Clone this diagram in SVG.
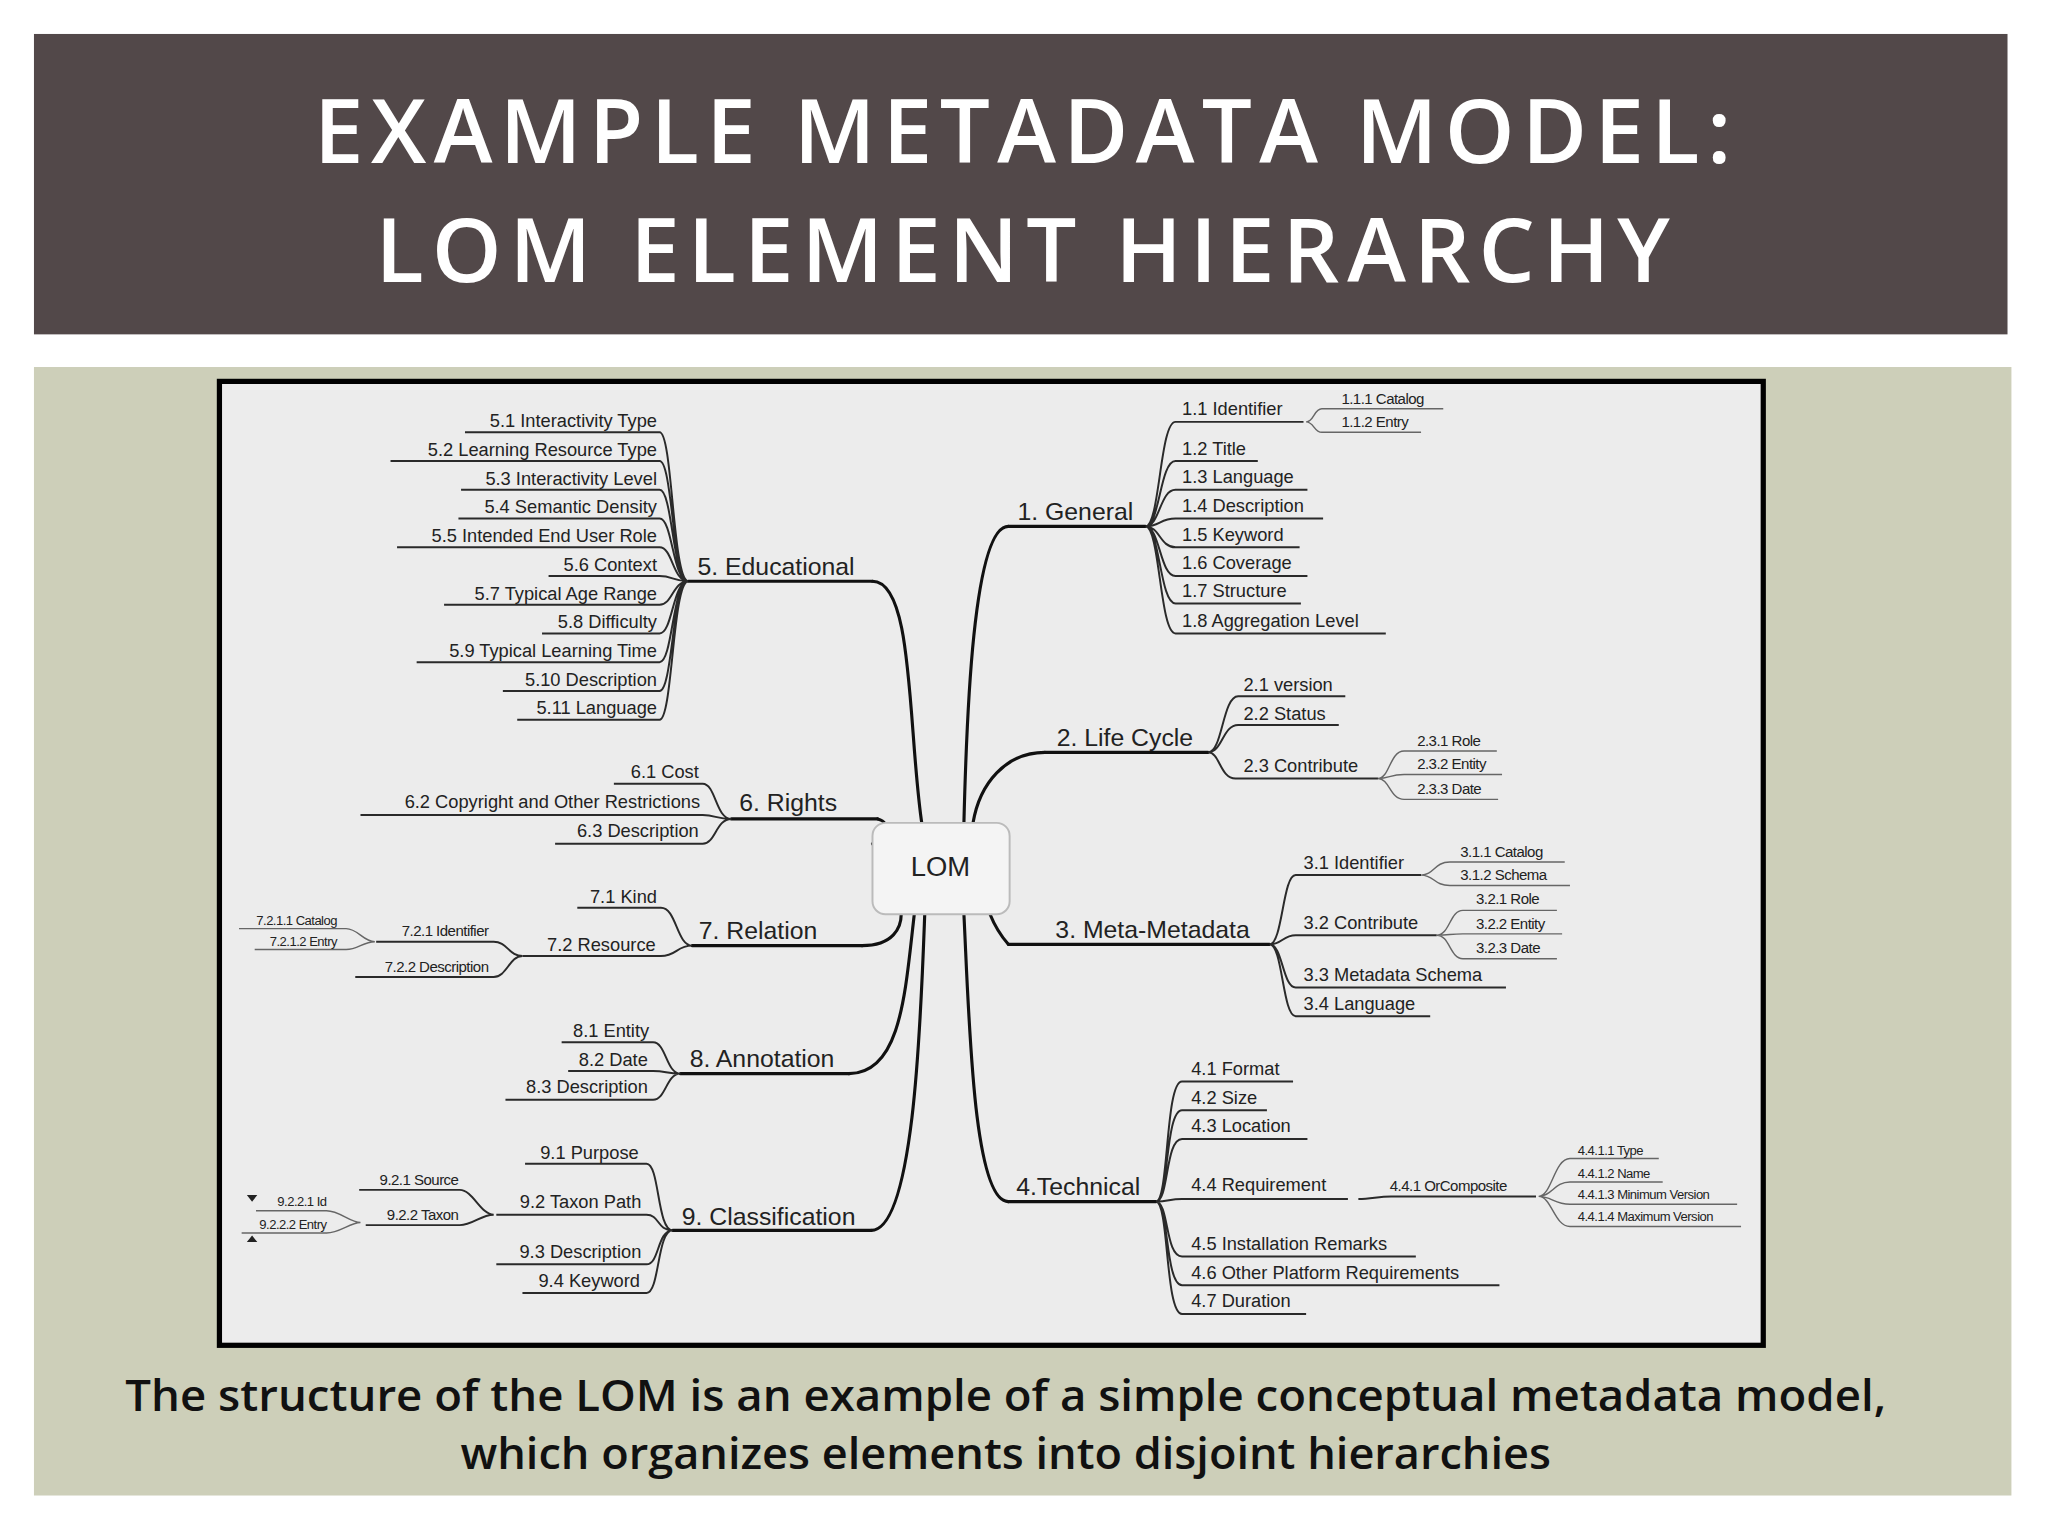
<svg xmlns="http://www.w3.org/2000/svg" width="2048" height="1536" viewBox="0 0 2048 1536">
<style>
.t{font-family:"Liberation Sans",Arial,sans-serif;fill:#222}
.m{font-size:19px}
.l{font-size:14px}
.s{font-size:11.5px;letter-spacing:-0.4px}
.r{text-anchor:end}
.c{fill:none;stroke:#111;stroke-width:2.4;stroke-linecap:round}
.e{fill:none;stroke:#2a2a2a;stroke-width:1.5}
.f{fill:none;stroke:#666;stroke-width:1.1}
</style>
<rect width="2048" height="1536" fill="#fff"/>
<g transform="scale(1.30612)">
<rect x="26" y="26" width="1511" height="230" fill="#524849"/>
<g font-family="'Open Sans','Liberation Sans',sans-serif" font-weight="600" font-size="68" fill="#fff" text-anchor="middle">
<text x="783" y="125" textLength="1085" lengthAdjust="spacing">EXAMPLE METADATA MODEL:</text>
<text x="783" y="216" textLength="991" lengthAdjust="spacing">LOM ELEMENT HIERARCHY</text>
</g>
<rect x="26" y="281" width="1514" height="864" fill="#cdcfb9"/>
<rect x="168" y="292" width="1182" height="738" fill="#ececec" stroke="#000" stroke-width="4"/>
<g font-family="'Open Sans','Liberation Sans',sans-serif" fill="#111" font-weight="600" font-size="33" text-anchor="middle">
<text x="770" y="1080" textLength="1348" lengthAdjust="spacingAndGlyphs">The structure of the LOM is an example of a simple conceptual metadata model,</text>
<text x="770" y="1125" textLength="835" lengthAdjust="spacingAndGlyphs">which organizes elements into disjoint hierarchies</text>
</g>

<g id="connectors">
<path class="c" d="M668 445 C700 445 695 560 706 632"/>
<path class="c" d="M672 627 C684 630 676 642 668 646"/>
<path class="c" d="M660 724 C684 724 690 710 690 700"/>
<path class="c" d="M650 822 C690 822 693 760 700 700"/>
<path class="c" d="M667 942 C700 942 705 780 708 700"/>
<path class="c" d="M772 403 C745 403 740 550 738 630"/>
<path class="c" d="M800 576 C770 576 750 600 745 630"/>
<path class="c" d="M772 723 C765 715 760 705 758 700"/>
<path class="c" d="M772 920 C745 920 742 780 738 700"/>
<path class="c" d="M527 445 H668 M560 627 H672 M530 724 H660 M521 822 H650 M515 942 H667 M772 403 H877 M800 576 H925 M772 723 H972 M772 920 H885"/>
<path class="e" d="M527 445 C515 445 515 331 505 331 H356 M527 445 C515 445 515 353 505 353 H299 M527 445 C515 445 515 375 505 375 H353 M527 445 C515 445 515 397 505 397 H351 M527 445 C515 445 515 419 505 419 H304 M527 445 C515 445 515 441 505 441 H420 M527 445 C515 445 515 463 505 463 H340 M527 445 C515 445 515 485 505 485 H415 M527 445 C515 445 515 507 505 507 H319 M527 445 C515 445 515 529 505 529 H385 M527 445 C515 445 515 551 505 551 H396"/>
<path class="e" d="M560 627 C548 627 548 600 538 600 H470 M560 627 C548 627 548 624 538 624 H276 M560 627 C548 627 548 646 538 646 H425"/>
<path class="e" d="M530 724 C518 724 518 695 506 695 H442 M530 724 C518 724 518 732 506 732 H400"/>
<path class="e" d="M400 732 C390 732 388 721 378 721 H288 M400 732 C390 732 388 748 378 748 H272"/>
<path class="f" d="M287 721 C278 721 274 711 265 711 H183 M287 721 C278 721 274 727 265 727 H195"/>
<path class="e" d="M521 822 C510 822 510 798 500 798 H430 M521 822 C510 822 510 820 500 820 H435 M521 822 C510 822 510 842 500 842 H387"/>
<path class="e" d="M515 942 C503 942 505 891 495 891 H402 M515 942 C503 942 505 930 495 930 H380 M515 942 C503 942 505 968 495 968 H380 M515 942 C503 942 505 990 495 990 H400"/>
<path class="e" d="M378 930 C368 930 362 911 352 911 H275 M378 930 C368 930 362 938 352 938 H280"/>
<path class="f" d="M276 936 C268 936 260 927 250 927 H196 M276 936 C268 936 260 944 250 944 H185"/>
<path d="M189 915 H197 L193 920 Z M189 951 H197 L193 946 Z" fill="#222"/>
<path class="e" d="M877 403 C888 403 888 323 900 323 H998 M877 403 C888 403 888 353 900 353 H963 M877 403 C888 403 888 375 900 375 H1001 M877 403 C888 403 888 397 900 397 H1013 M877 403 C888 403 888 419 900 419 H995 M877 403 C888 403 888 441 900 441 H1001 M877 403 C888 403 888 462 900 462 H996 M877 403 C888 403 888 485 900 485 H1061"/>
<path class="f" d="M1000 323 C1006 323 1006 313 1012 313 H1105 M1000 323 C1006 323 1006 331 1012 331 H1088"/>
<path class="e" d="M925 576 C936 576 936 533 948 533 H1030 M925 576 C936 576 936 555 948 555 H1025 M925 576 C934 576 934 596 946 596 H1055"/>
<path class="f" d="M1055 596 C1064 596 1064 575 1075 575 H1146 M1055 596 C1064 596 1064 593 1075 593 H1150 M1055 596 C1064 596 1064 612 1075 612 H1147"/>
<path class="e" d="M972 723 C982 723 982 670 992 670 H1088 M972 723 C982 723 982 716 992 716 H1100 M972 723 C982 723 982 756 992 756 H1153 M972 723 C982 723 982 778 992 778 H1095"/>
<path class="f" d="M1088 670 C1098 670 1098 660 1110 660 H1198 M1088 670 C1098 670 1098 678 1110 678 H1202"/>
<path class="f" d="M1100 716 C1110 716 1110 697 1120 697 H1192 M1100 716 C1110 716 1110 715 1120 715 H1196 M1100 716 C1110 716 1110 734 1120 734 H1192"/>
<path class="e" d="M885 920 C895 920 892 828 905 828 H990 M885 920 C895 920 892 850 905 850 H970 M885 920 C895 920 892 872 905 872 H1001 M885 920 C895 920 895 918 905 918 H1032 M885 920 C895 920 892 962 905 962 H1084 M885 920 C895 920 892 984 905 984 H1148 M885 920 C895 920 892 1006 905 1006 H1000"/>
<path class="e" d="M1040 918 C1050 918 1055 916 1065 916 H1176"/>
<path class="f" d="M1178 916 C1188 916 1190 887 1202 887 H1270 M1178 916 C1188 916 1190 905 1202 905 H1273 M1178 916 C1188 916 1190 922 1202 922 H1330 M1178 916 C1188 916 1190 939 1202 939 H1333"/>
</g>

<g id="lom"><rect x="668" y="630" width="105" height="70" rx="10" fill="#f4f4f4" stroke="#bbb" stroke-width="1.5"/><text class="t" x="720" y="671" font-size="21" text-anchor="middle">LOM</text></g>

<g id="n5" class="t"><text class="m" x="534" y="440">5. Educational</text>
<g class="l r"><text x="503" y="327">5.1 Interactivity Type</text><text x="503" y="349">5.2 Learning Resource Type</text><text x="503" y="371">5.3 Interactivity Level</text><text x="503" y="393">5.4 Semantic Density</text><text x="503" y="415">5.5 Intended End User Role</text><text x="503" y="437">5.6 Context</text><text x="503" y="459">5.7 Typical Age Range</text><text x="503" y="481">5.8 Difficulty</text><text x="503" y="503">5.9 Typical Learning Time</text><text x="503" y="525">5.10 Description</text><text x="503" y="547">5.11 Language</text></g></g>
<g id="n6" class="t"><text class="m" x="566" y="621">6. Rights</text>
<g class="l r"><text x="535" y="596">6.1 Cost</text><text x="536" y="619">6.2 Copyright and Other Restrictions</text><text x="535" y="641">6.3 Description</text></g></g>
<g id="n7" class="t"><text class="m" x="535" y="719">7. Relation</text>
<g class="l r"><text x="503" y="691">7.1 Kind</text><text x="502" y="728">7.2 Resource</text></g>
<g class="s r"><text x="374" y="717">7.2.1 Identifier</text><text x="374" y="744">7.2.2 Description</text></g>
<g class="r" font-size="10" letter-spacing="-0.4"><text x="258" y="708">7.2.1.1 Catalog</text><text x="258" y="724">7.2.1.2 Entry</text></g></g>
<g id="n8" class="t"><text class="m" x="528" y="817">8. Annotation</text>
<g class="l r"><text x="497" y="794">8.1 Entity</text><text x="496" y="816">8.2 Date</text><text x="496" y="837">8.3 Description</text></g></g>
<g id="n9" class="t"><text class="m" x="522" y="938">9. Classification</text>
<g class="l r"><text x="489" y="887">9.1 Purpose</text><text x="491" y="925">9.2 Taxon Path</text><text x="491" y="963">9.3 Description</text><text x="490" y="985">9.4 Keyword</text></g>
<g class="s r"><text x="351" y="907">9.2.1 Source</text><text x="351" y="934">9.2.2 Taxon</text></g>
<g class="r" font-size="10" letter-spacing="-0.4"><text x="250" y="923">9.2.2.1 Id</text><text x="250" y="941">9.2.2.2 Entry</text></g></g>
<g id="n1" class="t"><text class="m" x="779" y="398">1. General</text>
<g class="l"><text x="905" y="318">1.1 Identifier</text><text x="905" y="348">1.2 Title</text><text x="905" y="370">1.3 Language</text><text x="905" y="392">1.4 Description</text><text x="905" y="414">1.5 Keyword</text><text x="905" y="436">1.6 Coverage</text><text x="905" y="457">1.7 Structure</text><text x="905" y="480">1.8 Aggregation Level</text></g>
<g class="s"><text x="1027" y="309">1.1.1 Catalog</text><text x="1027" y="327">1.1.2 Entry</text></g></g>
<g id="n2" class="t"><text class="m" x="809" y="571">2. Life Cycle</text>
<g class="l"><text x="952" y="529">2.1 version</text><text x="952" y="551">2.2 Status</text><text x="952" y="591">2.3 Contribute</text></g>
<g class="s"><text x="1085" y="571">2.3.1 Role</text><text x="1085" y="589">2.3.2 Entity</text><text x="1085" y="608">2.3.3 Date</text></g></g>
<g id="n3" class="t"><text class="m" x="808" y="718">3. Meta-Metadata</text>
<g class="l"><text x="998" y="665">3.1 Identifier</text><text x="998" y="711">3.2 Contribute</text><text x="998" y="751">3.3 Metadata Schema</text><text x="998" y="773">3.4 Language</text></g>
<g class="s"><text x="1118" y="656">3.1.1 Catalog</text><text x="1118" y="674">3.1.2 Schema</text><text x="1130" y="692">3.2.1 Role</text><text x="1130" y="711">3.2.2 Entity</text><text x="1130" y="730">3.2.3 Date</text></g></g>
<g id="n4" class="t"><text class="m" x="778" y="915">4.Technical</text>
<g class="l"><text x="912" y="823">4.1 Format</text><text x="912" y="845">4.2 Size</text><text x="912" y="867">4.3 Location</text><text x="912" y="912">4.4 Requirement</text><text x="912" y="957">4.5 Installation Remarks</text><text x="912" y="979">4.6 Other Platform Requirements</text><text x="912" y="1001">4.7 Duration</text></g>
<text class="s" x="1064" y="912">4.4.1 OrComposite</text>
<g font-size="10" letter-spacing="-0.4"><text x="1208" y="884">4.4.1.1 Type</text><text x="1208" y="902">4.4.1.2 Name</text><text x="1208" y="918">4.4.1.3 Minimum Version</text><text x="1208" y="935">4.4.1.4 Maximum Version</text></g></g>
</g>
</svg>
